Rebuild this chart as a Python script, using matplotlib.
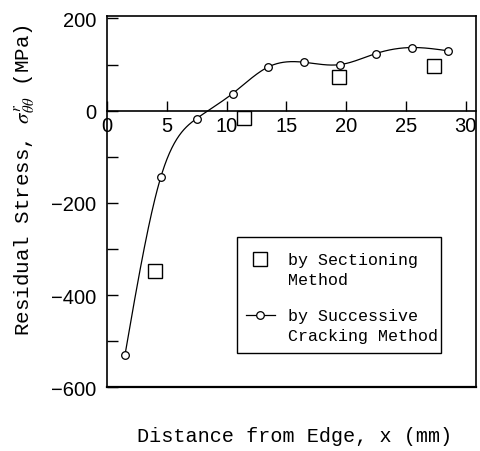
import numpy as np
import matplotlib
matplotlib.use("Agg")
import matplotlib.pyplot as plt
from matplotlib.ticker import MultipleLocator
from matplotlib.legend_handler import HandlerLine2D
from matplotlib.patches import Rectangle

# 데이터
x_crack = [1.5, 4.5, 7.5, 10.5, 13.5, 16.5, 19.5, 22.5, 25.5, 28.5]
y_crack = [-530, -144, -17, 37, 95, 105, 100, 124, 137, 130]
x_sect = [4.0, 11.5, 19.4, 27.4]
y_sect = [-347, -16, 73, 96]

x_ticks = [0, 5, 10, 15, 20, 25, 30]
y_ticks = [-600, -400, -200, 0, 200]

label_sect = "by Sectioning\nMethod"
label_crack = "by Successive\nCracking Method"


# 자연 3차 스플라인 (scipy 없이)
def natural_spline(x, y, xs):
    x = np.asarray(x, float)
    y = np.asarray(y, float)
    n = len(x)
    h = np.diff(x)
    A = np.zeros((n, n))
    b = np.zeros(n)
    A[0, 0] = 1
    A[-1, -1] = 1
    for i in range(1, n - 1):
        A[i, i - 1] = h[i - 1]
        A[i, i] = 2 * (h[i - 1] + h[i])
        A[i, i + 1] = h[i]
        b[i] = 6 * ((y[i + 1] - y[i]) / h[i] - (y[i] - y[i - 1]) / h[i - 1])
    M = np.linalg.solve(A, b)
    k = np.clip(np.searchsorted(x, xs) - 1, 0, n - 2)
    t1 = x[k + 1] - xs
    t2 = xs - x[k]
    hk = h[k]
    return (M[k] * t1 ** 3 + M[k + 1] * t2 ** 3) / (6 * hk) \
        + (y[k] / hk - M[k] * hk / 6) * t1 + (y[k + 1] / hk - M[k + 1] * hk / 6) * t2


# 범례 아이콘을 첫 줄 높이로 올림
class RaisedHandler(HandlerLine2D):
    def __init__(self, dy, **kw):
        super().__init__(**kw)
        self.dy = dy

    def create_artists(self, legend, orig_handle, xdescent, ydescent, width, height, fontsize, trans):
        arts = super().create_artists(legend, orig_handle, xdescent, ydescent, width, height, fontsize, trans)
        for a in arts:
            a.set_ydata(np.asarray(a.get_ydata(), float) + self.dy)
        return arts


mono = "Liberation Mono"
plt.rcParams["mathtext.fontset"] = "stix"

fig = plt.figure(figsize=(4.8, 4.52), dpi=100)
ax = fig.add_axes([0.223, 0.141, 0.768, 0.822])

xs = np.linspace(x_crack[0], x_crack[-1], 400)
ax.plot(xs, natural_spline(x_crack, y_crack, xs), color="black", lw=0.9)
ax.plot(x_crack, y_crack, "o", mfc="white", mec="black", ms=5.5, mew=0.9)
h_crack, = ax.plot([], [], "-o", color="black", mfc="white", mec="black", ms=5.5, mew=0.9, lw=0.9)
h_sect, = ax.plot(x_sect, y_sect, "s", mfc="white", mec="black", ms=10, mew=1.0)

ax.set_xlim(0, 30.85)
ax.set_ylim(-600, 206)

# x축을 0 위치로 이동
ax.spines["bottom"].set_position(("data", 0))
for s in ax.spines.values():
    s.set_linewidth(1.2)
ax.plot([0, 1], [0, 0], transform=ax.transAxes, color="black", lw=1.6, clip_on=False)

ax.set_xticks(x_ticks)
ax.set_yticks(y_ticks)
ax.yaxis.set_minor_locator(MultipleLocator(100))
ax.tick_params(axis="x", direction="in", length=7, width=1.0, pad=4,
               labelsize=14.5, labelfontfamily="Liberation Sans")
ax.tick_params(axis="y", which="both", direction="in", length=8, width=1.0, pad=8,
               labelsize=14.5, labelfontfamily="Liberation Sans")
ax.set_yticklabels(["\u2212600", "\u2212400", "\u2212200", "0", "200"])

ax.set_ylabel(r"Residual Stress, $\sigma^{r}_{\theta\theta}$ (MPa)", family=mono, fontsize=15)
ax.yaxis.set_label_coords(-0.19, 0.56)
ax.set_xlabel("Distance from Edge, x (mm)", family=mono, fontsize=14.5)
ax.xaxis.set_label_coords(0.51, -0.105)

# 범례 테두리
ax.add_patch(Rectangle((0.3534, 0.0915), 0.5516, 0.3122, transform=ax.transAxes,
                       fill=False, edgecolor="black", lw=1.0, zorder=5))
leg = ax.legend([h_sect, h_crack], [label_sect, label_crack], loc="upper left",
                bbox_to_anchor=(0.3775, 0.365),
                prop={"family": mono, "size": 12}, frameon=False,
                handlelength=1.7, handletextpad=0.8,
                labelspacing=1.25, borderpad=0, borderaxespad=0,
                handler_map={h_sect: RaisedHandler(7.5), h_crack: RaisedHandler(7.5)})
for t in leg.get_texts():
    t.set_linespacing(1.45)

fig.savefig("out.png", dpi=100)
